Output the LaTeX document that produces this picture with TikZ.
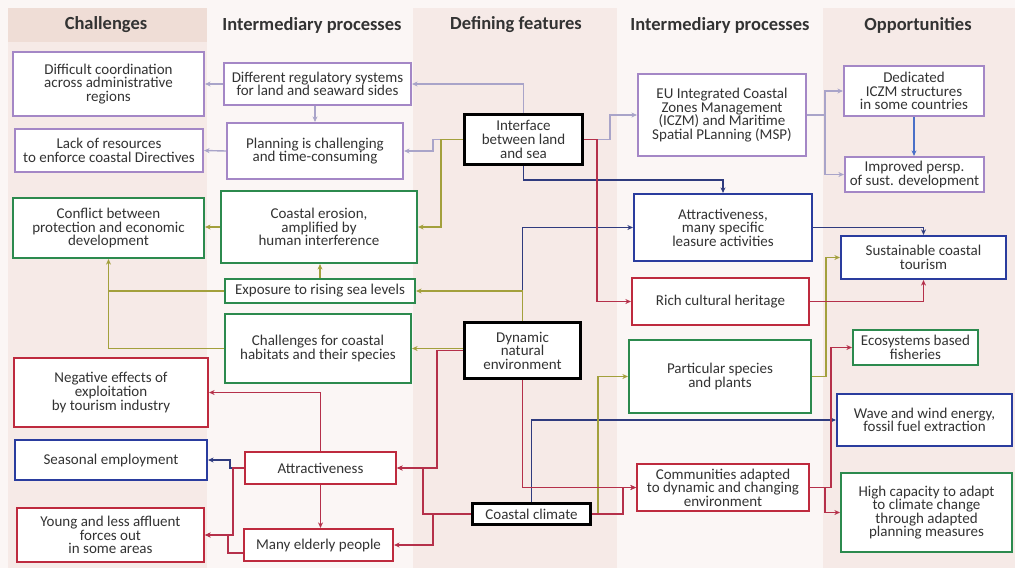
\documentclass[tikz,border=0pt]{standalone}
\usepackage{fontspec}
\setmainfont{Carlito}
\usetikzlibrary{arrows.meta,calc}

\definecolor{pagebg}{HTML}{FBF6F5}
\definecolor{bandbg}{HTML}{F6EAE7}
\definecolor{headbg}{HTML}{EFDDD6}
\definecolor{txt}{HTML}{333333}
\definecolor{cpurple}{HTML}{A487C6}
\definecolor{cgreen}{HTML}{2C8A4E}
\definecolor{cred}{HTML}{BE2A3E}
\definecolor{cblue}{HTML}{2A3C9E}
\definecolor{lavline}{HTML}{A9A4C9}
\definecolor{oliveline}{HTML}{A3A03C}
\definecolor{navyline}{HTML}{2F3B7E}
\definecolor{redline}{HTML}{B5304A}
\definecolor{skyline}{HTML}{4A70C8}

\tikzset{
  box/.style={draw, line width=2.2pt, fill=white, align=center, inner sep=1pt,
    text=txt, font=\fontsize{15}{13.6}\selectfont},
  pb/.style={box, draw=cpurple},
  gb/.style={box, draw=cgreen},
  rb/.style={box, draw=cred},
  bb/.style={box, draw=cblue},
  kb/.style={box, draw=black, line width=2.8pt},
  sz/.style 2 args={minimum width=#1pt, minimum height=#2pt},
  conn/.style={line width=1.4pt, -{Stealth[length=5.5pt,width=5pt]}},
  lav/.style={conn, draw=lavline},
  olv/.style={conn, draw=oliveline},
  nvy/.style={conn, draw=navyline},
  rdl/.style={conn, draw=redline},
  sky/.style={conn, draw=skyline},
  head/.style={text=txt, font=\fontsize{18.5}{20}\selectfont\bfseries}
}

\begin{document}
\begin{tikzpicture}[x=1pt,y=-1pt]
\useasboundingbox (0,0) rectangle (1015,568);

% column shading
\fill[pagebg] (0,0) rectangle (1015,568);
\fill[bandbg] (8,8) rectangle (207,568);
\fill[headbg] (8,8) rectangle (207,42);
\fill[bandbg] (413,8) rectangle (617,568);
\fill[bandbg] (823,8) rectangle (1015,568);

% column headings
\node[head] (h1) at (106,25) {Challenges};
\node[head] (h2) at (312,25) {Intermediary processes};
\node[head] (h3) at (516,25) {Defining features};
\node[head] (h4) at (720,25) {Intermediary processes};
\node[head] (h5) at (918,25) {Opportunities};

% challenges
\node[pb, sz={191}{64}] (diff) at (108.5,84) {Difficult coordination\\across administrative\\regions};
\node[pb, sz={188}{43}] (lack) at (109,150.5) {Lack of resources\\to enforce coastal Directives};
\node[gb, sz={191}{60}] (confl) at (108.5,228) {Conflict between\\protection and economic\\development};
\node[rb, sz={194}{69}] (neg) at (111,392.5) {Negative effects of\\exploitation\\by tourism industry};
\node[bb, sz={192}{40}] (seas) at (111,460) {Seasonal employment};
\node[rb, sz={187}{54}] (young) at (110.5,535) {Young and less affluent\\forces out\\in some areas};

% left intermediary processes
\node[pb, sz={187}{42}] (dreg) at (317.5,84) {Different regulatory systems\\for land and seaward sides};
\node[pb, sz={176}{56}] (plan) at (315,151) {Planning is challenging\\and time-consuming};
\node[gb, sz={196}{72}] (eros) at (319,227) {Coastal erosion,\\amplified by\\human interference};
\node[gb, sz={190}{24}] (expo) at (320,291) {Exposure to rising sea levels};
\node[gb, sz={186}{69}] (chal) at (318,348.5) {Challenges for coastal\\habitats and their species};
\node[rb, sz={151}{32}] (attr2) at (320.5,468) {Attractiveness};
\node[rb, sz={149}{32}] (eld) at (318.5,545) {Many elderly people};

% defining features
\node[kb, sz={118}{50}] (iface) at (523.5,139.5) {Interface\\between land\\and sea};
\node[kb, sz={116}{56}] (dyn) at (522.5,350.5) {Dynamic\\natural\\environment};
\node[kb, sz={118}{21}] (clim) at (531.5,514) {Coastal climate};

% right intermediary processes
\node[pb, sz={168}{82}] (eu) at (722,115) {EU Integrated Coastal\\Zones Management\\(ICZM) and Maritime\\Spatial PLanning (MSP)};
\node[bb, sz={178}{67}] (attr1) at (723,227.5) {Attractiveness,\\many specific\\leasure activities};
\node[rb, sz={177}{47}] (rich) at (720.5,301.5) {Rich cultural heritage};
\node[gb, sz={182}{73}] (part) at (720,376.5) {Particular species\\and plants};
\node[rb, sz={172}{47}] (comm) at (723,487.5) {Communities adapted\\to dynamic and changing\\environment};

% opportunities
\node[pb, sz={140}{50}] (dedic) at (914,91) {Dedicated\\ICZM structures\\in some countries};
\node[pb, sz={139}{35}] (impr) at (914.5,174.5) {Improved persp.\\of sust. development};
\node[bb, sz={165}{43}] (sust) at (923.5,257.5) {Sustainable coastal\\tourism};
\node[gb, sz={125}{35}] (eco) at (915.5,347.5) {Ecosystems based\\fisheries};
\node[bb, sz={175}{52}] (wave) at (924.5,420) {Wave and wind energy,\\fossil fuel extraction};
\node[gb, sz={171}{79}] (high) at (926.5,512.5) {High capacity to adapt\\to climate change\\through adapted\\planning measures};

% governance links
\draw[lav] (dreg.west) -- (diff.east);
\draw[lav] (plan.west) -- (lack.east);
\draw[lav] (iface.north) |- (dreg.east);
\draw[lav] (plan.north |- dreg.south) -- (plan.north);
\draw[lav] (iface.west) -- ++(-30,0) |- (plan.east);
\draw[lav] (iface.east) -- ++(26,0) |- (eu.west);
\draw[lav] (eu.east) -- ++(18,0) coordinate (euj) |- (dedic.west);
\draw[lav] (euj) |- (impr.west);
\draw[sky] (dedic.south) -- (dedic.south |- impr.north);

% tourism and energy links
\draw[nvy] (iface.south) -- ++(0,14) -| (attr1.north);
\draw[nvy] (dyn.north) |- (attr1.west);
\draw[nvy] (attr1.east) -| (sust.north);
\draw[nvy] (clim.north) |- (wave.west);
\draw[nvy] (attr2.west) -- ++(-14,0) |- (seas.east);

% environmental links
\draw[olv] (iface.west) -- ++(-22,0) |- (eros.east);
\draw[olv] (dyn.north) |- (expo.east);
\draw[olv] (expo.north) -- (expo.north |- eros.south);
\draw[olv] (eros.west) -- (eros.west -| confl.east);
\draw[olv] (expo.west) -| (confl.south);
\draw[olv, -] (chal.west) -| (expo.west -| confl.south);
\draw[olv] (clim.east) -- ++(6,0) |- (part.west);
\draw[olv] (part.east) -- ++(14,0) |- (sust.west);

% social and cultural links
\draw[rdl] (iface.east) -- ++(13,0) |- (rich.west);
\draw[rdl] (rich.east) -| (sust.south);
\draw[rdl] (dyn.south) |- (comm.west);
\draw[rdl] (clim.east) -- ++(31,0) |- (comm.west);
\draw[rdl] (comm.east) -- ++(21,0) |- (eco.west);
\draw[rdl] (comm.east) -- ++(15,0) |- (high.west);
\draw[rdl] (dyn.west) -- ++(-26,0) |- (attr2.east);
\draw[rdl] (clim.west) -- ++(-48,0) |- (attr2.east);
\draw[rdl] (clim.west) -- ++(-38,0) |- (eld.east);
\draw[rdl] (attr2.north) |- (neg.east);
\draw[rdl] (attr2.south) -- (attr2.south |- eld.north);
\draw[rdl] ($(eld.west)+(0,8)$) -- ++(-15,0) |- (young.east);
\draw[rdl] (attr2.west) -- ++(-11,0) |- (young.east);
\draw[olv] (dyn.west |- chal.east) -- (chal.east);
\end{tikzpicture}
\end{document}
